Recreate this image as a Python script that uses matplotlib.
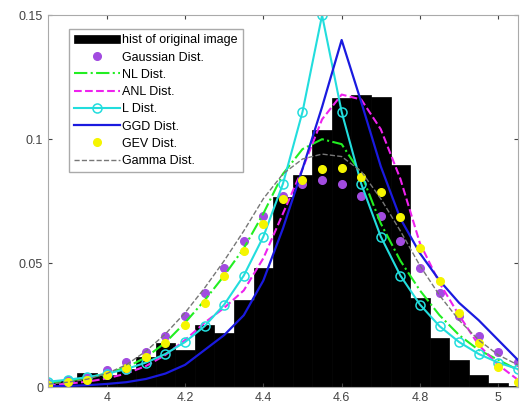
import numpy as np
import matplotlib
matplotlib.use('Agg')
import matplotlib.pyplot as plt

plt.rcParams['font.family'] = ['Liberation Sans', 'DejaVu Sans']

# bin centres (the fits are evaluated at the same points)
centres = [3.85, 3.90, 3.95, 4.00, 4.05, 4.10, 4.15, 4.20, 4.25, 4.30, 4.35, 4.40, 4.45,
           4.50, 4.55, 4.60, 4.65, 4.70, 4.75, 4.80, 4.85, 4.90, 4.95, 5.00, 5.05]

hist_vals = [0.002, 0.003, 0.0056, 0.005, 0.0075, 0.012, 0.018, 0.015, 0.025, 0.022, 0.035, 0.048, 0.0766,
             0.0855, 0.1036, 0.1165, 0.118, 0.117, 0.0895, 0.036, 0.020, 0.011, 0.005, 0.0016, 0.0005]

gauss = [0.0016, 0.0028, 0.0042, 0.0068, 0.0100, 0.0142, 0.0205, 0.0285, 0.038, 0.048, 0.059, 0.069, 0.077,
         0.082, 0.0835, 0.082, 0.077, 0.069, 0.059, 0.048, 0.038, 0.0285, 0.0205, 0.0142, 0.010]

nl = [0.0018, 0.0026, 0.0038, 0.0055, 0.008, 0.012, 0.018, 0.026, 0.035, 0.045, 0.056, 0.070, 0.086,
      0.096, 0.100, 0.098, 0.086, 0.066, 0.051, 0.039, 0.029, 0.021, 0.015, 0.011, 0.007]

anl = [0.0008, 0.0014, 0.0022, 0.0035, 0.0055, 0.0085, 0.013, 0.019, 0.026, 0.032, 0.039, 0.052, 0.070,
       0.088, 0.108, 0.118, 0.116, 0.104, 0.084, 0.058, 0.042, 0.029, 0.017, 0.009, 0.003]

lap = [0.0022, 0.003, 0.004, 0.0054, 0.0073, 0.0099, 0.0134, 0.0182, 0.0246, 0.0333, 0.045, 0.0607, 0.082,
       0.111, 0.150, 0.111, 0.082, 0.0607, 0.045, 0.0333, 0.0246, 0.0182, 0.0134, 0.0099, 0.0073]

ggd = [0.0003, 0.0005, 0.0008, 0.0013, 0.002, 0.0033, 0.0055, 0.009, 0.015, 0.021, 0.029, 0.043, 0.064,
       0.088, 0.113, 0.140, 0.115, 0.089, 0.068, 0.054, 0.043, 0.034, 0.027, 0.019, 0.011]

gev = [0.001, 0.002, 0.003, 0.0048, 0.0077, 0.012, 0.0177, 0.025, 0.034, 0.045, 0.055, 0.066, 0.076,
       0.0835, 0.088, 0.0883, 0.0847, 0.0787, 0.0686, 0.056, 0.043, 0.030, 0.018, 0.008, 0.002]

gamma = [0.0012, 0.002, 0.0032, 0.0055, 0.009, 0.0145, 0.0215, 0.030, 0.040, 0.051, 0.063, 0.076, 0.086,
         0.092, 0.094, 0.093, 0.087, 0.076, 0.063, 0.049, 0.037, 0.027, 0.019, 0.013, 0.009]

fig = plt.figure(figsize=(5.22, 4.11), dpi=100)
ax = fig.add_axes([0.092, 0.058, 0.900, 0.905])

h = []
h.append(ax.bar(centres, hist_vals, width=0.05, color='black', edgecolor='black', linewidth=0.5,
                label='hist of original image'))
h += ax.plot(centres, gauss, 'o', color='#a24be0', markersize=5.5, markeredgecolor='#a24be0',
             label='Gaussian Dist.')
h += ax.plot(centres, nl, '-.', color='#22ee22', linewidth=1.5, label='NL Dist.')
h += ax.plot(centres, anl, '--', color='#ee22ee', linewidth=1.5, label='ANL Dist.')
h += ax.plot(centres, lap, '-o', color='#22dddd', linewidth=1.5, markersize=6.5,
             markerfacecolor='none', markeredgewidth=1.1, label='L Dist.')
h += ax.plot(centres, ggd, '-', color='#1a1adf', linewidth=1.6, label='GGD Dist.')
h += ax.plot(centres, gev, 'o', color='#f5f500', markersize=5.5, markeredgecolor='#f5f500',
             label='GEV Dist.')
h += ax.plot(centres, gamma, '--', color='#777777', linewidth=1.0, label='Gamma Dist.')

ax.set_xlim(3.85, 5.05)
ax.set_ylim(0, 0.15)
ax.set_xticks([4, 4.2, 4.4, 4.6, 4.8, 5])
ax.set_xticklabels(['4', '4.2', '4.4', '4.6', '4.8', '5'])
ax.set_yticks([0, 0.05, 0.1, 0.15])
ax.set_yticklabels(['0', '0.05', '0.1', '0.15'])
ax.tick_params(direction='in', length=3, labelsize=9, colors='#444444',
               top=True, right=True)
for s in ax.spines.values():
    s.set_color('#aaaaaa')

leg = ax.legend(handles=h, loc='upper left', bbox_to_anchor=(0.045, 0.962), fontsize=9,
                handlelength=3.7, handletextpad=0.15, borderpad=0.4, labelspacing=0.42,
                fancybox=False, framealpha=1, edgecolor='#aaaaaa', borderaxespad=0)

fig.savefig('out.png', dpi=100)
